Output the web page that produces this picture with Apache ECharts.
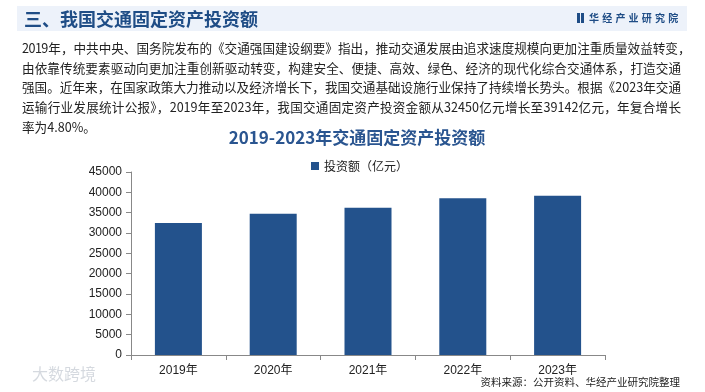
<!DOCTYPE html>
<html><head><meta charset="utf-8">
<script src="https://cdn.jsdelivr.net/npm/echarts@6/dist/echarts.min.js"></script>
<style>
html,body{margin:0;padding:0;width:705px;height:392px;overflow:hidden;background:#fff;font-family:"Liberation Sans","Noto Sans CJK SC",sans-serif;}
#chart{position:absolute;left:0;top:0;width:705px;height:392px;}
#band{position:absolute;left:17px;top:6px;width:670px;height:25px;background:#edf2fa;}
#htitle{position:absolute;left:24px;top:6px;font-size:18px;font-weight:bold;color:#1f4d86;font-family:"Noto Sans CJK SC",sans-serif;line-height:24px;}
#logo{position:absolute;left:577px;top:11px;font-size:10px;font-weight:bold;color:#1f4d86;letter-spacing:3.2px;font-family:"Noto Sans CJK SC",sans-serif;line-height:13px;white-space:nowrap;}
#logo i{display:inline-block;width:3px;height:10px;background:#1f4d86;margin-right:1px;vertical-align:-1px;}
#logo i+i{margin-right:5px;}
#para{position:absolute;left:22px;top:38px;font-size:12.6px;line-height:19.7px;color:#222;font-family:"Noto Sans CJK SC",sans-serif;}
#para div.j{text-align:justify;text-align-last:justify;white-space:nowrap;}
</style></head>
<body>
<div id="chart"></div>
<div id="band"></div>
<div id="htitle">三、我国交通固定资产投资额</div>
<div id="logo"><i></i><i></i>华经产业研究院</div>
<div id="para">
<div class="j" style="width:668px;letter-spacing:-0.55px">2019年，中共中央、国务院发布的《交通强国建设纲要》指出，推动交通发展由追求速度规模向更加注重质量效益转变，</div>
<div class="j" style="width:659px">由依靠传统要素驱动向更加注重创新驱动转变，构建安全、便捷、高效、绿色、经济的现代化综合交通体系，打造交通</div>
<div class="j" style="width:659px">强国。近年来，在国家政策大力推动以及经济增长下，我国交通基础设施行业保持了持续增长势头。根据《2023年交通</div>
<div class="j" style="width:659px">运输行业发展统计公报》，2019年至2023年，我国交通固定资产投资金额从32450亿元增长至39142亿元，年复合增长</div>
<div>率为4.80%。</div>
</div>
<script>
const categories = ['2019年','2020年','2021年','2022年','2023年'];
const investment = [32450, 34752, 36187, 38545, 39142];
const seriesName = '投资额（亿元）';
const chartTitle = '2019-2023年交通固定资产投资额';
const sourceNote = '资料来源：公开资料、华经产业研究院整理';

const chart = echarts.init(document.getElementById('chart'));
chart.setOption({
  animation:false,
  textStyle:{fontFamily:'"Liberation Sans","Noto Sans CJK SC",sans-serif'},
  title:{text:chartTitle,left:352,textAlign:'center',top:124,
    textStyle:{fontSize:17,fontWeight:'bold',color:'#2a5590',fontFamily:'"Noto Sans CJK SC",sans-serif'}},
  legend:{data:[seriesName],top:155,left:306,itemWidth:8,itemHeight:8,icon:'rect',itemGap:4,
    textStyle:{fontSize:12,color:'#222',fontFamily:'"Noto Sans CJK SC",sans-serif'}},
  grid:{left:131,right:100,top:172,bottom:37},
  xAxis:{type:'category',data:categories,
    axisLine:{lineStyle:{color:'#888'}},
    axisTick:{show:true,length:5,lineStyle:{color:'#888'}},
    axisLabel:{fontSize:12,color:'#222',margin:10}},
  yAxis:{type:'value',min:0,max:45000,interval:5000,
    axisLine:{show:true,lineStyle:{color:'#888'}},
    axisTick:{show:true,length:5,lineStyle:{color:'#888'}},
    splitLine:{show:false},
    axisLabel:{fontSize:12,color:'#222',margin:9,formatter:function(v){return String(v);}}},
  series:[{name:seriesName,type:'bar',data:investment,barWidth:47,itemStyle:{color:'#23528c'}}],
  graphic:[
    {type:'text',right:25,top:377,style:{text:sourceNote,fontSize:10.5,fill:'#222',fontFamily:'"Noto Sans CJK SC",sans-serif'}},
    {type:'text',left:32,top:366,style:{text:'大数跨境',fontSize:16,fill:'rgba(150,160,175,0.4)',fontFamily:'"Noto Sans CJK SC",sans-serif'}}
  ]
});
</script>
</body></html>
